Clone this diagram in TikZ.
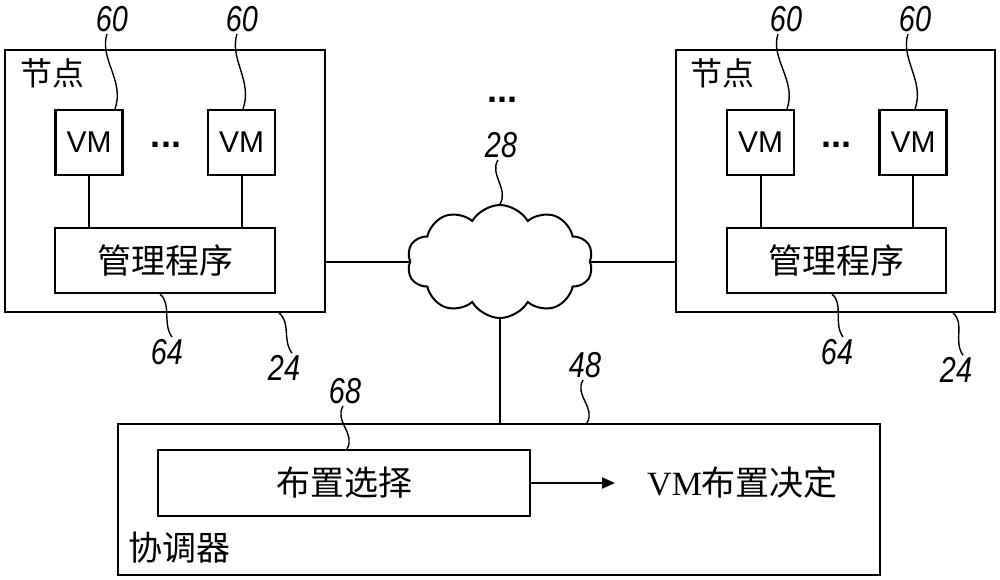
\documentclass[tikz,border=0pt]{standalone}
\usepackage{fontspec}
\setmainfont{Liberation Serif}
\newfontfamily\cjk{Noto Sans CJK SC}
\newfontfamily\lsans{Liberation Sans}
\usetikzlibrary{shapes.symbols,calc,arrows.meta}
\newcommand\reflab[1]{\scalebox{0.8}[1]{#1}}
\begin{document}
\begin{tikzpicture}[x=1pt,y=-1pt,
  box/.style={draw,line width=2.2pt,inner sep=0pt},
  vmbox/.style={box,minimum width=67pt,minimum height=65pt,font=\lsans\fontsize{30}{30}\selectfont},
  mgrbox/.style={box,minimum width=220pt,minimum height=65pt,font=\cjk\fontsize{34}{34}\selectfont},
  conn/.style={line width=2pt},
  sq/.style={line width=1.4pt},
  num/.style={font=\lsans\itshape\fontsize{36}{36}\selectfont,inner sep=2pt},
  cjklab/.style={font=\cjk\fontsize{32}{32}\selectfont,inner sep=0pt,anchor=west},
  dotsn/.style={font=\lsans\bfseries\fontsize{36}{36}\selectfont,inner sep=0pt}]
\useasboundingbox (0,0) rectangle (1000,579);

% left node
\node[box,minimum width=320pt,minimum height=262pt] (left) at (165,181) {};
\node[vmbox] (vm1) at (89,142.5) {VM};
\node[vmbox] (vm2) at (241.5,142.5) {VM};
\node[mgrbox] (mgr1) at (165,260.5) {管理程序};
\node[cjklab] (nodeL) at (20,73) {节点};
\node[dotsn] (dl) at (166,145) {...};
\draw[conn] (vm1.south) -- (vm1.south |- mgr1.north);
\draw[conn] (vm2.south) -- (vm2.south |- mgr1.north);

% right node
\node[box,minimum width=319pt,minimum height=262pt] (right) at (835.5,181) {};
\node[vmbox] (vm3) at (760.5,142.5) {VM};
\node[vmbox] (vm4) at (913,142.5) {VM};
\node[mgrbox,minimum width=219pt] (mgr2) at (836.5,260.5) {管理程序};
\node[cjklab] (nodeR) at (690,73) {节点};
\node[dotsn] (dr) at (836,145) {...};
\draw[conn] (vm3.south) -- (vm3.south |- mgr2.north);
\draw[conn] (vm4.south) -- (vm4.south |- mgr2.north);

% network
\node[dotsn] (dtop) at (502,100) {...};
\node[cloud,draw,line width=2pt,cloud puffs=10,cloud puff arc=120,aspect=1.65,
      minimum width=186pt,minimum height=113pt,inner sep=0pt] (net) at (500,261.5) {};
\draw[conn] (net.west -| left.east) -- (net.west);
\draw[conn] (net.east) -- (net.east -| right.west);

% coordinator
\node[box,minimum width=762pt,minimum height=151pt] (coord) at (499,499.5) {};
\node[box,minimum width=372pt,minimum height=66pt,font=\cjk\fontsize{34}{34}\selectfont] (place) at (344,483) {布置选择};
\node[inner sep=0pt,anchor=west,font=\rmfamily\fontsize{34}{34}\selectfont] (dec) at (647,483) {VM{\cjk 布置决定}};
\node[cjklab,font=\cjk\fontsize{34}{34}\selectfont] (coordlab) at (128,548) {协调器};
\draw[conn,-{Triangle[length=13pt,width=11pt]}] (place.east) -- ([xshift=-32pt]dec.west);
\draw[conn] (net.south) -- (net.south |- coord.north);

% reference labels
\node[num] (n60a) at (112,19) {\reflab{60}};
\node[num] (n60b) at (242,19) {\reflab{60}};
\node[num] (n60c) at (786,19) {\reflab{60}};
\node[num] (n60d) at (915,19) {\reflab{60}};
\node[num] (n64a) at (167,352) {\reflab{64}};
\node[num] (n24a) at (284,368) {\reflab{24}};
\node[num] (n64b) at (837,352) {\reflab{64}};
\node[num] (n24b) at (956,370) {\reflab{24}};
\node[num] (n28) at (501,145) {\reflab{28}};
\node[num] (n48) at (585,365) {\reflab{48}};
\node[num] (n68) at (345,391) {\reflab{68}};

% squiggles (upward)
\draw[sq] ([xshift=26pt]vm1.north) .. controls +(10,-28) and +(-8,25) .. ([xshift=-5pt]n60a.south);
\draw[sq] ([xshift=1.5pt]vm2.north) .. controls +(10,-28) and +(-8,25) .. ([xshift=-5pt]n60b.south);
\draw[sq] ([xshift=26.5pt]vm3.north) .. controls +(10,-28) and +(-8,25) .. ([xshift=-8pt]n60c.south);
\draw[sq] ([xshift=2pt]vm4.north) .. controls +(10,-28) and +(-8,25) .. ([xshift=-7pt]n60d.south);
\draw[sq] (net.north) .. controls +(9,-15) and +(-9,14) .. ([xshift=-3pt]n28.south);
\draw[sq] ([xshift=88pt]coord.north) .. controls +(9,-16) and +(-9,16) .. ([xshift=-2pt]n48.south);
\draw[sq] ([xshift=3pt]place.north) .. controls +(9,-16) and +(-9,16) .. ([xshift=-2pt]n68.south);
% squiggles (downward)
\draw[sq] ([xshift=-5pt]mgr1.south) .. controls +(12,10) and +(-10,-14) .. ([xshift=5pt]n64a.north);
\draw[sq] ([xshift=-47pt]left.south east) .. controls +(12,10) and +(-10,-14) .. ([xshift=8pt]n24a.north);
\draw[sq] ([xshift=-4.5pt]mgr2.south) .. controls +(12,10) and +(-10,-14) .. ([xshift=6pt]n64b.north);
\draw[sq] ([xshift=-43pt]right.south east) .. controls +(12,10) and +(-10,-14) .. ([xshift=7pt]n24b.north);
\end{tikzpicture}
\end{document}
